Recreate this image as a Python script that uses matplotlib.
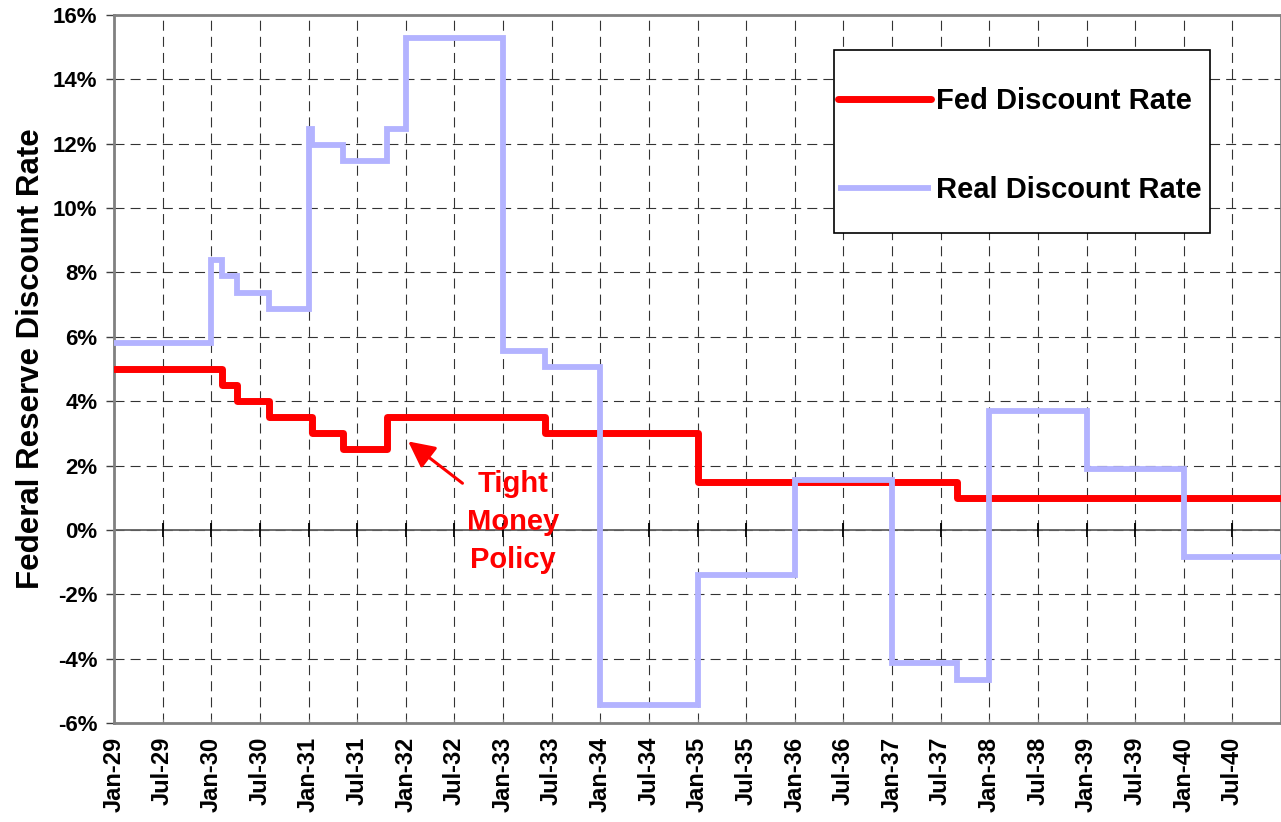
import matplotlib
matplotlib.use('Agg')
import matplotlib.pyplot as plt
from matplotlib.patches import Rectangle
from matplotlib.ticker import FuncFormatter

plt.rcParams['font.family'] = ['Liberation Sans', 'DejaVu Sans']
plt.rcParams['font.weight'] = 'bold'

# months counted from Jan-1929
fed_months = [0, 13.3, 15.2, 19.1, 24.4, 28.3, 33.7, 53.2, 72, 104]
fed_rate = [5.0, 4.5, 4.0, 3.5, 3.0, 2.5, 3.5, 3.0, 1.5, 1.0]

real_months = [0, 12, 13.3, 15.2, 19.1, 24, 24.4, 28.2, 33.7, 36, 48, 53.2,
               60, 72, 84, 96, 104, 108, 120, 132]
real_rate = [5.8, 8.4, 7.9, 7.35, 6.85, 12.45, 11.95, 11.45, 12.45, 15.3,
             5.55, 5.05, -5.45, -1.4, 1.55, -4.15, -4.65, 3.7, 1.9, -0.85]

end_month = 144
tick_labels = []
for yr in range(29, 41):
    tick_labels += ['Jan-%d' % yr, 'Jul-%d' % yr]
tick_pos = list(range(0, end_month, 6))

fig = plt.figure(figsize=(12.81, 8.22), dpi=100)
ax = fig.add_axes([114 / 1281, 99 / 822, 1167 / 1281, 708 / 822])

ax.step(fed_months + [end_month], fed_rate + [fed_rate[-1]], where='post',
        color='#ff0000', lw=5, solid_joinstyle='round', solid_capstyle='round',
        label='Fed Discount Rate', zorder=3)
ax.step(real_months + [end_month], real_rate + [real_rate[-1]], where='post',
        color='#b3b3ff', lw=4.2, solid_joinstyle='miter', solid_capstyle='butt',
        label='Real Discount Rate', zorder=4)

ax.set_xlim(0, end_month)
ax.set_ylim(-6, 16)
ax.set_yticks(range(-6, 17, 2))
ax.yaxis.set_major_formatter(FuncFormatter(lambda v, p: '%d%%' % v))
ax.set_xticks(tick_pos)
ax.set_xticklabels(tick_labels, rotation=90, fontsize=17, fontweight='bold')
ax.tick_params(axis='y', labelsize=16, length=6, width=1, color='#404040', pad=6)
ax.tick_params(axis='x', direction='in', length=3, color='#808080', pad=10)
for lbl in ax.get_yticklabels():
    lbl.set_fontweight('bold')

ax.grid(True, color='black', linestyle=(0, (9, 5.5)), lw=0.8, alpha=0.8)
for s in ax.spines.values():
    s.set_color('#808080')
    s.set_linewidth(2)

# zero axis line with crossing tick marks
ax.axhline(0, color='#606060', lw=1.3, zorder=2)
ax.plot(tick_pos, [0] * len(tick_pos), linestyle='none', marker='|',
        markersize=10, markeredgewidth=1.3, color='black', zorder=2)

ax.set_ylabel('Federal Reserve Discount Rate', fontsize=22.5, fontweight='bold')
ax.yaxis.set_label_coords(-0.058, 0.514)

ax.annotate('', xy=(36.3, 2.75), xytext=(43.0, 1.45),
            arrowprops=dict(arrowstyle='-|>', color='#ff0000', lw=2.2,
                            mutation_scale=40, shrinkA=0, shrinkB=0))
ax.text(49.2, 0.25, 'Tight\nMoney\nPolicy', color='#ff0000', fontsize=21,
        fontweight='bold', ha='center', va='center', linespacing=1.47)

# legend box drawn separately so its padding matches the original
ax.add_patch(Rectangle((0.617, 0.6921), 0.3222, 0.2585, transform=ax.transAxes,
                       facecolor='white', edgecolor='black', lw=1.2, zorder=5))
leg = ax.legend(loc='upper left', bbox_to_anchor=(0.6204, 0.898),
                fontsize=21, handlelength=3.2, handletextpad=0.17,
                labelspacing=2.1, borderpad=0, borderaxespad=0,
                frameon=False)
leg.set_zorder(6)
for t in leg.get_texts():
    t.set_fontweight('bold')

fig.savefig('out.png', dpi=100)
